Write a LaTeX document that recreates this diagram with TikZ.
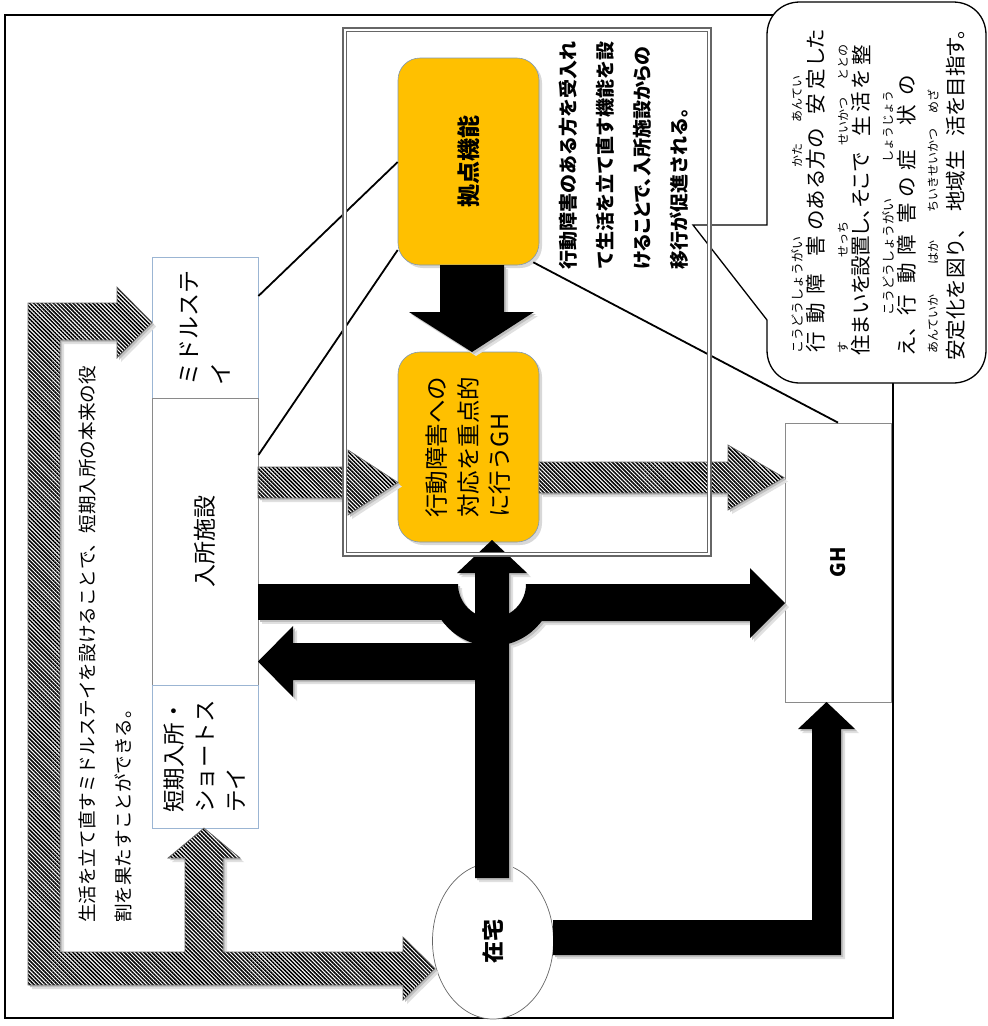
\documentclass[tikz,border=0pt]{standalone}
\usepackage{fontspec}
\setmainfont{Noto Sans CJK JP}
\newfontfamily\jpp{Noto Sans CJK JP}[RawFeature=+palt]
\usetikzlibrary{patterns.meta,shapes.geometric,shadows,calc}
\definecolor{orng}{HTML}{FFC000}
\definecolor{blueb}{HTML}{9BB5D3}
\definecolor{grayb}{HTML}{8A8A8A}
\definecolor{orngb}{HTML}{7F98B5}
\newcommand\hatchshapes[1]{%
  \path[#1] (28,303) -- (117,303) -- (117,287) -- (152,322.5) -- (117,358) -- (117,340) -- (60,340) -- (60,952) -- (185,952) -- (185,858) -- (168,858) -- (204,828) -- (240,858) -- (223,858) -- (223,952) -- (403,952) -- (403,937) -- (435,968.5) -- (403,1000) -- (403,985) -- (28,985) -- cycle;
  \path[#1] (258,467) -- (348,467) -- (348,450) -- (398,482.5) -- (348,515) -- (348,498) -- (258,498) -- cycle;
  \path[#1] (539,462) -- (728,462) -- (728,445) -- (784,477.5) -- (728,510) -- (728,493) -- (539,493) -- cycle;
}
\newcommand\blackshapes[1]{%
  \fill[#1] (440,265) -- (504,265) -- (504,312) -- (534,312) -- (472,352) -- (409,312) -- (440,312) -- cycle;
  \fill[#1] (475,878) -- (475,573) -- (457,573) -- (492,540) -- (527,573) -- (509,573) -- (509,878) -- cycle;
  \fill[#1] (258,584) rectangle (458,620);
  \fill[#1] (430,584) -- (458,584) arc[start angle=180,end angle=0,radius=34] -- (554,584) arc[start angle=0,end angle=180,radius=62] -- cycle;
  \fill[#1] (526,584) -- (750,584) -- (750,568) -- (785,603) -- (750,638) -- (750,621) -- (526,621) -- cycle;
  \fill[#1] (475,643) -- (293,643) -- (293,626) -- (258,661.5) -- (293,697) -- (293,680) -- (475,680) -- cycle;
  \fill[#1] (553,920) -- (812,920) -- (812,729) -- (798,729) -- (826.5,702) -- (855,729) -- (841,729) -- (841,955) -- (553,955) -- cycle;
}
\begin{document}
\begin{tikzpicture}[x=1pt,y=-1pt,
  rt/.style={rotate=90,inner sep=0pt},
  wbox/.style={draw=#1,line width=0.8pt,fill=white,inner sep=0pt},
  obox/.style={draw=orngb,line width=0.6pt,fill=orng,rounded corners=22pt,inner sep=0pt,
     drop shadow={shadow xshift=3pt,shadow yshift=-3pt,fill=black!30}},
  hatch/.style={preaction={fill=white},pattern={Lines[angle=-45,distance=2.8pt,line width=1.5pt]},
     pattern color=black,draw=black!60,line width=0.7pt},
  conn/.style={draw=black,line width=1.8pt},
  bmain/.style={rt,font=\fontsize{20.5}{20.5}\selectfont},
  bruby/.style={rt,font=\fontsize{12}{12}\selectfont},
  brubyw/.style={rt,font=\fontsize{13}{13}\selectfont},
]
\useasboundingbox (0,0) rectangle (988,1026);
\fill[white] (0,0) rectangle (988,1026);

% outer frame
\node[draw=black,line width=1.5pt,minimum width=888pt,minimum height=1003pt,inner sep=0pt] (frame) at (449,516.5) {};

% group box (filled, with shadow)
\node[fill=white,minimum width=364pt,minimum height=524pt,inner sep=0pt,
  drop shadow={shadow xshift=3pt,shadow yshift=-3pt,fill=black!22}] (grp) at (527,292) {};

% boxes
\node[wbox=blueb,minimum width=106pt,minimum height=141pt] (mid) at (205,327.5) {};
\node[wbox=grayb,minimum width=106pt,minimum height=287pt] (ins) at (205,541.5) {};
\node[wbox=blueb,minimum width=106pt,minimum height=143pt] (short) at (205,756.5) {};
\node[obox,minimum width=141pt,minimum height=207pt] (kyo) at (468.5,161.5) {};
\node[obox,minimum width=141pt,minimum height=190pt] (ghk) at (468.5,447) {};
\node[ellipse,draw=black!60,line width=0.7pt,fill=white,minimum width=121pt,minimum height=156pt,inner sep=0pt] (home) at (493,941) {};
\node[wbox=grayb,minimum width=106pt,minimum height=279pt] (gh) at (838,562.5) {};

% hatched arrows
\begin{scope}[xshift=4pt,yshift=-4pt]\hatchshapes{fill=black!12}\end{scope}
\begin{scope}[xshift=2pt,yshift=-2pt]\hatchshapes{fill=black!25}\end{scope}
\hatchshapes{hatch}

% black arrows
\begin{scope}[xshift=4pt,yshift=-4pt]\blackshapes{black!12}\end{scope}
\begin{scope}[xshift=2pt,yshift=-2pt]\blackshapes{black!25}\end{scope}
\blackshapes{black}

% thin connectors
\draw[conn] (mid.east |- 0,296) -- (kyo.west |- 0,162);
\draw[conn] (ins.east |- 0,455) -- (kyo.west |- 0,250);
\draw[conn] ($(kyo.south east)+(-6,-3)$) -- (gh.north);

% speech bubble
\draw[line width=1.3pt,fill=white] (693,225) -- (767,225) -- (767,35) .. controls (767,16) and (781,2) .. (800,2) -- (953,2) .. controls (972,2) and (986,16) .. (986,35) -- (986,350) .. controls (986,369) and (972,383) .. (953,383) -- (800,383) .. controls (781,383) and (767,369) .. (767,350) -- (767,320) -- cycle;

% group double border
\draw[draw=black!60,double=white,double distance=2.5pt,line width=1.1pt] (grp.north west) rectangle (grp.south east);

% box texts
\node[rt,align=left,font=\fontsize{23}{32}\selectfont] (midt) at (mid) {ミドルステ\\イ};
\node[rt,font=\fontsize{23}{23}\selectfont] (inst) at (ins) {入所施設};
\node[rt,align=left,font=\fontsize{22.5}{31}\selectfont] (shortt) at (short) {短期入所・\\ショートス\\テイ};
\node[rt,font=\bfseries\fontsize{23}{23}\selectfont] (kyot) at (kyo) {拠点機能};
\node[rt,align=left,font=\fontsize{23.5}{31.5}\selectfont] (ghkt) at (ghk) {行動障害への\\対応を重点的\\に行うGH};
\node[rt,font=\bfseries\fontsize{22}{22}\selectfont] (homet) at (home) {在宅};
\node[rt,font=\bfseries\fontsize{20}{20}\selectfont] (ght) at (gh) {GH};

% explanation texts
\node[rt,anchor=west,align=left,font=\bfseries\fontsize{19}{37}\selectfont] (expl) at (623.5,270)
  {行動障害のある方を受入れ\\て生活を立て直す機能を設\\{\jpp けることで、入所施設からの}\\移行が促進される。};
\node[rt,anchor=west,align=left,font=\fontsize{18.6}{36}\selectfont] (leftt) at (105,923)
  {生活を立て直すミドルステイを設けることで、短期入所の本来の役\\割を果たすことができる。};

% bubble text, line 1
\node[brubyw,anchor=west] (r11) at (797,354) {こうどうしょうがい};
\node[bruby,anchor=west] (r12) at (797,168) {かた};
\node[bruby,anchor=west] (r13) at (797,123) {あんてい};
\node[bmain] (t11) at (816,342) {行};
\node[bmain] (t12) at (816,313) {動};
\node[bmain] (t13) at (816,284) {障};
\node[bmain] (t14) at (816,246) {害};
\node[bmain,anchor=west] (t15) at (816,231) {のある方の};
\node[bmain] (t16) at (816,104) {安};
\node[bmain] (t17) at (816,79) {定};
\node[bmain,anchor=west] (t18) at (816,66) {\jpp した};
% line 2
\node[bruby] (r21) at (843,347) {す};
\node[bruby,anchor=west] (r22) at (843,258) {せっち};
\node[bruby,anchor=west] (r23) at (843,146) {せいかつ};
\node[bruby,anchor=west] (r24) at (843,81) {ととの};
\node[bmain,anchor=west] (t21) at (861,356) {住まいを};
\node[bmain,anchor=west] (t22) at (861,277) {{\jpp 設置し、そこで}};
\node[bmain] (t23) at (861,126) {生};
\node[bmain] (t24) at (861,102) {活};
\node[bmain] (t25) at (861,79) {を};
\node[bmain] (t26) at (861,55) {整};
% line 3
\node[brubyw,anchor=west] (r31) at (888,316) {こうどうしょうがい};
\node[bruby,anchor=west] (r32) at (888,163) {しょうじょう};
\node[bmain,anchor=west] (t31) at (907,357) {え、};
\node[bmain] (t32) at (907,305) {行};
\node[bmain] (t33) at (907,273) {動};
\node[bmain] (t34) at (907,245) {障};
\node[bmain] (t35) at (907,213) {害};
\node[bmain] (t36) at (907,187) {の};
\node[bmain] (t37) at (907,160) {症};
\node[bmain] (t38) at (907,115) {状};
\node[bmain] (t39) at (907,85) {の};
% line 4
\node[bruby,anchor=west] (r41) at (933,354) {あんていか};
\node[bruby,anchor=west] (r42) at (933,265) {はか};
\node[bruby,anchor=west] (r43) at (933,213) {ちいきせいかつ};
\node[bruby,anchor=west] (r44) at (933,114) {めざ};
\node[bmain,anchor=west] (t41) at (956,361) {安定化を図り、};
\node[bmain,anchor=west] (t42) at (956,212) {地域生};
\node[bmain,anchor=west] (t43) at (956,137) {{\jpp 活を目指す。}};
\end{tikzpicture}
\end{document}
